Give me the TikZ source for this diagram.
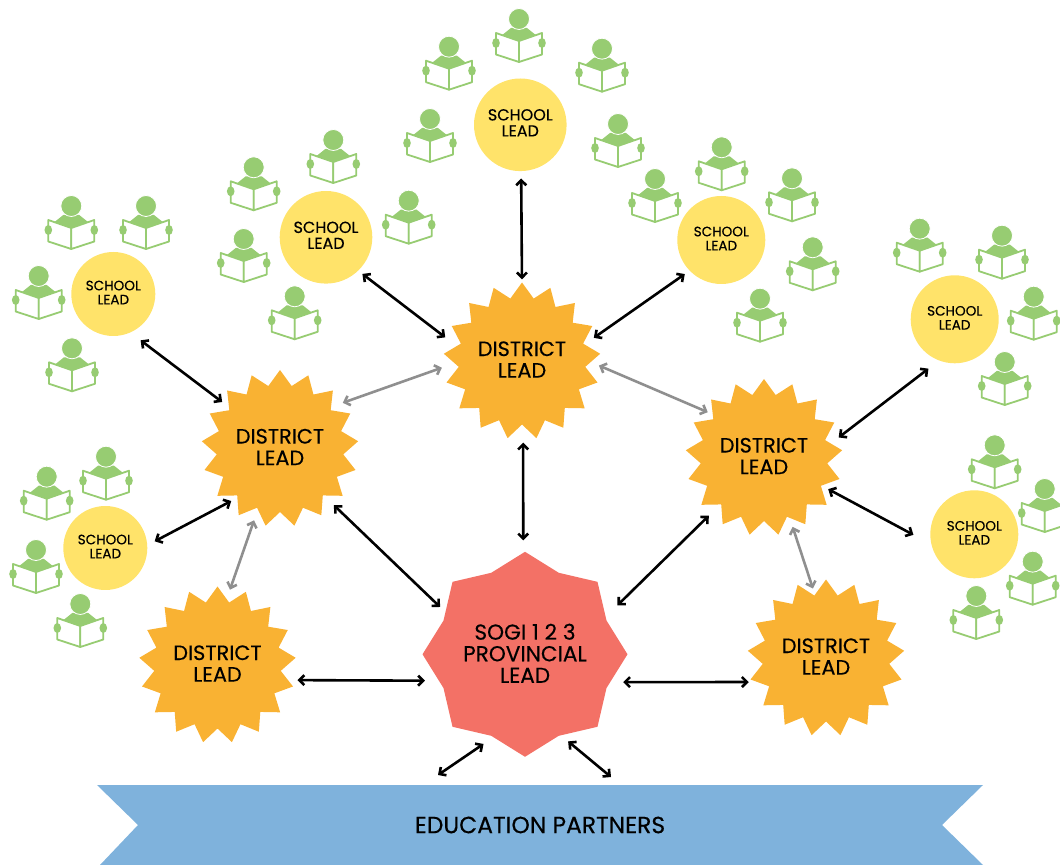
\documentclass[tikz,border=0pt]{standalone}
\usepackage{fontspec}
\setmainfont{Poppins}[FakeBold=0.35]
\usetikzlibrary{arrows.meta,shapes.geometric}
\newlength{\du}
\setlength{\du}{0.5pt}
\definecolor{districtcolor}{rgb}{0.976471, 0.698039, 0.200000}
\definecolor{schoolcolor}{rgb}{1.000000, 0.890196, 0.415686}
\definecolor{readercolor}{rgb}{0.592157, 0.800000, 0.447059}
\definecolor{provincecolor}{rgb}{0.952941, 0.443137, 0.400000}
\definecolor{partnercolor}{rgb}{0.498039, 0.698039, 0.862745}
\definecolor{peercolor}{rgb}{0.560000, 0.560000, 0.560000}
\tikzset{
  districtlead/.style={star,star points=17,star point ratio=1.236,minimum size=157\du,inner sep=0pt,fill=districtcolor,align=center,text depth=3\du,font=\fontsize{10.4}{10.8}\selectfont},
  provincelead/.style={star,star points=8,star point ratio=1.162,minimum size=205\du,inner sep=0pt,fill=provincecolor,align=center,text depth=2\du,font=\fontsize{10.8}{10.8}\selectfont},
  schoolbig/.style={circle,minimum size=92.6\du,inner sep=0pt,fill=schoolcolor,align=center,text depth=4\du,font=\fontsize{8}{8}\selectfont},
  schoolsmall/.style={circle,minimum size=84\du,inner sep=0pt,fill=schoolcolor,align=center,text depth=3\du,font=\fontsize{6.8}{7}\selectfont},
  partnerlabel/.style={font=\fontsize{11.7}{12}\selectfont},
  twoway/.style={{Straight Barb[length=2.5pt,width=5pt]}-{Straight Barb[length=2.5pt,width=5pt]},line width=2.6\du,black},
  peerway/.style={twoway,peercolor},
  reader/.pic={
    \pgftransformyscale{-1.000000}
    \fill[readercolor] (-18\du,17\du)--(-8\du,9\du)--(8\du,9\du)--(18\du,17\du)--(0\du,24\du)--cycle;
    \fill[readercolor,draw=white,line width=0.8\du] (0\du,0\du) circle (10.5\du);
    \draw[readercolor,fill=white,line width=1.8\du,line join=round] (-23\du,14\du)--(0\du,22\du)--(0\du,43\du)--(-23\du,35.5\du)--cycle;
    \draw[readercolor,fill=white,line width=1.8\du,line join=round] (23\du,14\du)--(0\du,22\du)--(0\du,43\du)--(23\du,35.5\du)--cycle;
    \fill[readercolor] (-23\du,24\du) ellipse [x radius=3.8\du,y radius=5\du];
    \fill[readercolor] (23\du,24\du) ellipse [x radius=3.8\du,y radius=5\du];
  }
}

\begin{document}
\begin{tikzpicture}
\pgftransformxscale{1.000000}
\pgftransformyscale{-1.000000}
\useasboundingbox (0\du,0\du) rectangle (1060\du,865\du);

\fill[partnercolor] (97\du,785\du)--(983\du,785\du)--(942\du,825\du)--(983\du,865\du)--(100\du,865\du)--(138\du,825\du)--cycle;
\node[partnerlabel] (partners) at (540\du,825\du) {EDUCATION PARTNERS};

\pic at (519\du,19\du) {reader};
\pic at (449\du,46.7\du) {reader};
\pic at (602\du,48.7\du) {reader};
\pic at (430\du,119\du) {reader};
\pic at (618\du,124\du) {reader};
\pic at (253.7\du,167.3\du) {reader};
\pic at (333.3\du,140\du) {reader};
\pic at (408.7\du,200.7\du) {reader};
\pic at (243.7\du,239\du) {reader};
\pic at (294.7\du,296.3\du) {reader};
\pic at (655\du,179\du) {reader};
\pic at (721.7\du,147.3\du) {reader};
\pic at (792\du,178.3\du) {reader};
\pic at (812.7\du,247.3\du) {reader};
\pic at (760\du,298.7\du) {reader};
\pic at (71.3\du,206\du) {reader};
\pic at (146\du,206\du) {reader};
\pic at (38.7\du,276\du) {reader};
\pic at (72\du,348.3\du) {reader};
\pic at (919.7\du,228.7\du) {reader};
\pic at (1002\du,235.7\du) {reader};
\pic at (1033.7\du,296.7\du) {reader};
\pic at (1004.7\du,362\du) {reader};
\pic at (994.7\du,445.3\du) {reader};
\pic at (1044.7\du,489\du) {reader};
\pic at (1032.7\du,561.7\du) {reader};
\pic at (976.3\du,596\du) {reader};
\pic at (46.7\du,476.7\du) {reader};
\pic at (106\du,456.7\du) {reader};
\pic at (36\du,550\du) {reader};
\pic at (80.3\du,604\du) {reader};

\node[schoolbig] (schooltop) at (520.3\du,124.8\du) {SCHOOL\\LEAD};
\node[schoolbig] (schoolleft) at (326\du,237.3\du) {SCHOOL\\LEAD};
\node[schoolsmall,minimum size=88\du] (schoolmid) at (721.3\du,240\du) {SCHOOL\\LEAD};
\node[schoolsmall] (schoolfar) at (113.3\du,294\du) {SCHOOL\\LEAD};
\node[schoolsmall,minimum size=88\du] (schoolright) at (954.7\du,319.3\du) {SCHOOL\\LEAD};
\node[schoolsmall,minimum size=88\du] (schoollowright) at (974.3\du,534.3\du) {SCHOOL\\LEAD};
\node[schoolsmall] (schoollowleft) at (105.3\du,548\du) {SCHOOL\\LEAD};

\node[districtlead] (districtcentre) at (522\du,361\du) {DISTRICT\\LEAD};
\node[districtlead] (districtleft) at (280\du,448.5\du) {DISTRICT\\LEAD};
\node[districtlead] (districtlowleft) at (217.5\du,665\du) {DISTRICT\\LEAD};
\node[districtlead] (districtright) at (764\du,457.5\du) {DISTRICT\\LEAD};
\node[districtlead] (districtlowright) at (826\du,658\du) {DISTRICT\\LEAD};
\node[provincelead] (province) at (525\du,654.3\du) {SOGI 1 2 3\\PROVINCIAL\\LEAD};

\coordinate (partnerone) at (438\du,775\du);
\coordinate (partnertwo) at (611\du,777\du);

\draw[twoway,shorten <=7\du,shorten >=2.5\du] (schooltop.-89)--(districtcentre.90);
\draw[twoway,shorten <=5\du,shorten >=14\du] (schoolleft.-46)--(districtcentre.167);
\draw[twoway,shorten <=5.6\du,shorten >=11\du] (schoolmid.224)--(districtcentre.15);
\draw[twoway,shorten <=12.6\du,shorten >=8\du] (schoolfar.-66)--(districtleft.141);
\draw[twoway,shorten <=8\du,shorten >=6.5\du] (schoollowleft.4)--(districtleft.229);
\draw[twoway,shorten <=13\du,shorten >=9.5\du] (schoolright.249)--(districtright.12.5);
\draw[twoway,shorten <=20\du,shorten >=7\du] (schoollowright.193)--(districtright.-26);
\draw[peerway,shorten <=12\du,shorten >=13\du] (districtleft.39)--(districtcentre.182);
\draw[peerway,shorten <=8.5\du,shorten >=5\du] (districtcentre.-1)--(districtright.140);
\draw[peerway,shorten <=11\du,shorten >=9.5\du] (districtleft.250)--(districtlowleft.82);
\draw[peerway,shorten <=9\du,shorten >=6\du] (districtright.-67)--(districtlowright.100);
\draw[twoway,shorten <=16.5\du,shorten >=12\du] (districtcentre.-89)--(province.91);
\draw[twoway,shorten <=13.5\du,shorten >=7\du] (districtleft.-47)--(province.152);
\draw[twoway,shorten <=15.5\du,shorten >=16\du] (districtright.227)--(province.25);
\draw[twoway,shorten <=9\du,shorten >=13.5\du] (districtlowleft.-12)--(province.197);
\draw[twoway,shorten <=12.5\du,shorten >=7.5\du] (province.-18)--(districtlowright.199);
\draw[twoway,shorten <=11.6\du] (province.249)--(partnerone);
\draw[twoway,shorten <=9\du] (province.294)--(partnertwo);
\end{tikzpicture}
\end{document}
